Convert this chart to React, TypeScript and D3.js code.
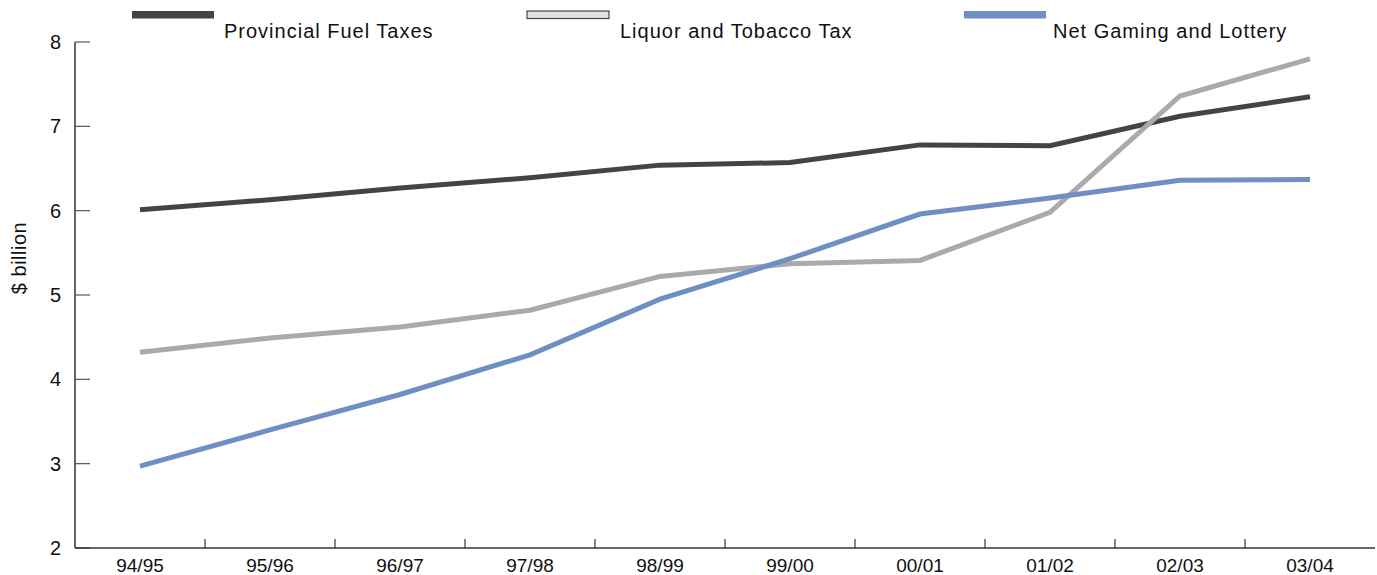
import React, { useRef, useEffect } from "react";
import * as d3 from "d3";

const years = ["94/95", "95/96", "96/97", "97/98", "98/99", "99/00", "00/01", "01/02", "02/03", "03/04"];
const fuelTaxes = [6.01, 6.13, 6.27, 6.39, 6.54, 6.57, 6.78, 6.77, 7.12, 7.35];
const liquorTobacco = [4.32, 4.49, 4.62, 4.82, 5.22, 5.37, 5.41, 5.98, 7.36, 7.8];
const gamingLottery = [2.97, 3.4, 3.82, 4.29, 4.95, 5.43, 5.96, 6.15, 6.36, 6.37];
const yTicks = [2, 3, 4, 5, 6, 7, 8];

const series = [
  { name: "Provincial Fuel Taxes", values: fuelTaxes, color: "#444444", swatch: "#444444", border: "none" },
  { name: "Liquor and Tobacco Tax", values: liquorTobacco, color: "#aaaaaa", swatch: "#e2e2e2", border: "#444444" },
  { name: "Net Gaming and Lottery", values: gamingLottery, color: "#6f8fc4", swatch: "#6f8fc4", border: "none" },
];

const W = 1377;
const H = 575;
const FONT = "'Liberation Sans', Arial, sans-serif";

function drawChart(el: SVGSVGElement) {
  const svg = d3.select(el);
  svg.selectAll("*").remove();

  const left = 75;
  const right = 1375;
  const top = 42;
  const bottom = 548;

  const x = d3.scaleBand<string>().domain(years).range([left, right]);
  const y = d3.scaleLinear().domain([2, 8]).range([bottom, top]);

  // y axis
  svg.append("line")
    .attr("x1", left).attr("x2", left)
    .attr("y1", top).attr("y2", bottom)
    .attr("stroke", "#666").attr("stroke-width", 2);

  const yt = svg.selectAll(".ytick").data(yTicks).enter().append("g");
  yt.append("line")
    .attr("x1", left).attr("x2", left + 15)
    .attr("y1", (d) => y(d)).attr("y2", (d) => y(d))
    .attr("stroke", "#555").attr("stroke-width", 1.2);
  yt.append("text")
    .attr("x", 61).attr("y", (d) => y(d) + 7)
    .attr("text-anchor", "end")
    .attr("font-family", FONT).attr("font-size", 20)
    .attr("fill", "#111")
    .text((d) => d);

  svg.append("text")
    .attr("transform", `translate(26, 258) rotate(-90)`)
    .attr("text-anchor", "middle")
    .attr("font-family", FONT).attr("font-size", 20)
    .attr("letter-spacing", 0.5)
    .attr("fill", "#111")
    .text("$ billion");

  // x axis
  svg.append("line")
    .attr("x1", left).attr("x2", right)
    .attr("y1", bottom).attr("y2", bottom)
    .attr("stroke", "#333").attr("stroke-width", 1.5);

  svg.selectAll(".xtick").data(years.slice(1)).enter().append("line")
    .attr("x1", (d) => x(d) as number).attr("x2", (d) => x(d) as number)
    .attr("y1", bottom).attr("y2", bottom - 9)
    .attr("stroke", "#333").attr("stroke-width", 1.2);

  svg.selectAll(".xlabel").data(years).enter().append("text")
    .attr("x", (d) => (x(d) as number) + x.bandwidth() / 2)
    .attr("y", 572)
    .attr("text-anchor", "middle")
    .attr("font-family", FONT).attr("font-size", 19)
    .attr("fill", "#111")
    .text((d) => d);

  // lines
  const line = d3.line<number>()
    .x((_, i) => (x(years[i]) as number) + x.bandwidth() / 2)
    .y((d) => y(d));

  svg.selectAll(".series").data(series).enter().append("path")
    .attr("d", (s) => line(s.values))
    .attr("fill", "none")
    .attr("stroke", (s) => s.color)
    .attr("stroke-width", 5);

  // legend
  const legendX = [132, 527, 964];
  const lg = svg.selectAll(".legend").data(series).enter().append("g")
    .attr("transform", (_, i) => `translate(${legendX[i]}, 0)`);
  lg.append("rect")
    .attr("x", 0).attr("y", 11)
    .attr("width", 82).attr("height", 7.5)
    .attr("fill", (s) => s.swatch)
    .attr("stroke", (s) => s.border)
    .attr("stroke-width", 1.2);
  lg.append("text")
    .attr("x", (_, i) => [92, 93, 89][i])
    .attr("y", 38)
    .attr("font-family", FONT).attr("font-size", 20)
    .attr("letter-spacing", 1)
    .attr("fill", "#111")
    .text((s) => s.name);
}

export default function App() {
  const ref = useRef<SVGSVGElement>(null);
  useEffect(() => {
    if (ref.current == null) return;
    drawChart(ref.current);
  }, []);
  return (
    <svg
      ref={ref}
      width={W}
      height={H}
      style={{ position: "absolute", left: 0, top: 0, display: "block", background: "#fff" }}
    />
  );
}
